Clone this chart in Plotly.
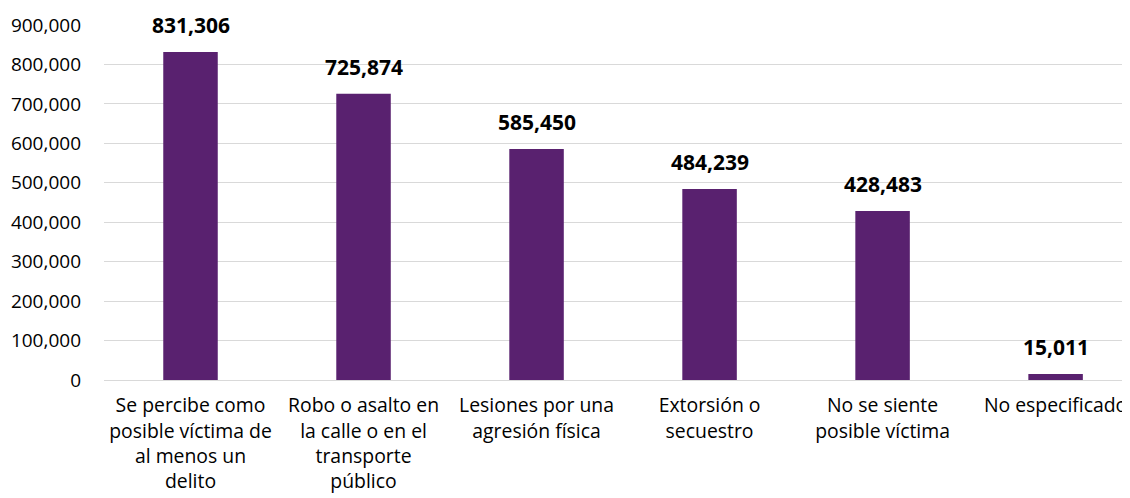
import plotly.graph_objects as go

# Categories and values
categories = [
    'Se percibe como<br>posible víctima de<br>al menos un<br>delito',
    'Robo o asalto en<br>la calle o en el<br>transporte<br>público',
    'Lesiones por una<br>agresión física',
    'Extorsión o<br>secuestro',
    'No se siente<br>posible víctima',
    'No especificado',
]
values = [831306, 725874, 585450, 484239, 428483, 15011]
y_ticks = [0, 100000, 200000, 300000, 400000, 500000, 600000, 700000, 800000, 900000]

BAR_COLOR = '#59216F'
GRID_COLOR = '#D9D9D9'
FONT = 'Open Sans, Noto Sans, sans-serif'

fig = go.Figure()
fig.add_trace(go.Bar(
    x=categories,
    y=values,
    marker_color=BAR_COLOR,
    marker_line_width=0,
    width=0.315,
    hovertemplate='%{y:,}<extra></extra>',
))

# Bold value labels above each bar
for cat, val in zip(categories, values):
    fig.add_annotation(
        x=cat, y=val,
        text=f'<b>{val:,}</b>',
        showarrow=False,
        yanchor='bottom',
        yshift=11,
        font={'size': 21, 'color': '#000000', 'family': FONT},
    )

# page body has an 8px margin, so the figure is sized to fill the rest of the window
fig.update_layout(
    width=1122,
    height=490,
    paper_bgcolor='#ffffff',
    plot_bgcolor='#ffffff',
    showlegend=False,
    font={'family': FONT, 'size': 18, 'color': '#000000'},
    margin={'l': 96, 'r': 0, 't': 17, 'b': 118},
    xaxis={
        'type': 'category',
        'range': [-0.5, 5.43],
        'automargin': False,
        'showgrid': False,
        'showline': True,
        'linecolor': GRID_COLOR,
        'linewidth': 1,
        'ticks': '',
        'tickangle': 0,
        'ticklabelstandoff': 8,
        'tickfont': {'size': 19.4, 'color': '#000000'},
    },
    yaxis={
        'range': [0, 900000],
        'automargin': False,
        'tickvals': y_ticks,
        'tickformat': ',',
        'showgrid': True,
        'gridcolor': GRID_COLOR,
        'gridwidth': 1,
        'zeroline': False,
        'showline': False,
        'ticks': '',
        'ticklabelstandoff': 22,
        'tickfont': {'size': 19, 'color': '#000000'},
    },
)

fig.write_html("out.html")
